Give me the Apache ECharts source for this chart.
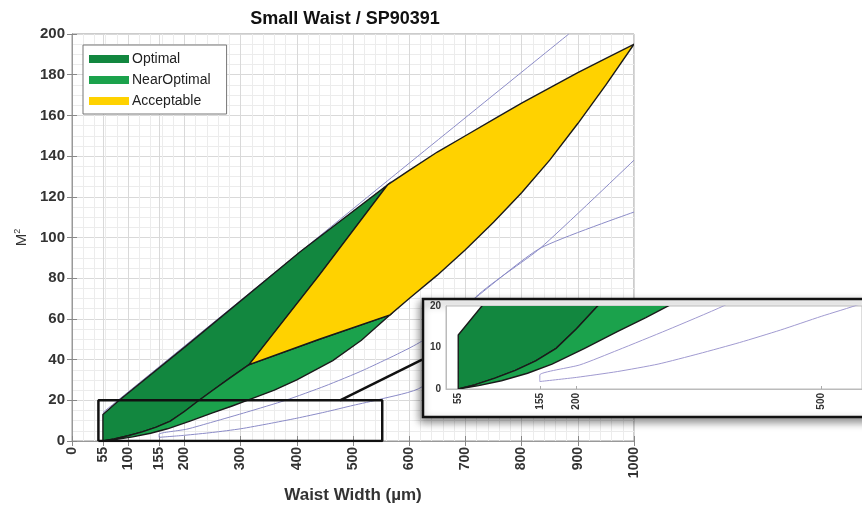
<!DOCTYPE html>
<html>
<head>
<meta charset="utf-8">
<script src="https://cdn.jsdelivr.net/npm/echarts@6/dist/echarts.min.js"></script>
<style>
  html, body { margin: 0; padding: 0; background: #fff; }
  #chart { width: 862px; height: 511px; }
</style>
</head>
<body>
<div id="chart"></div>
<script>
// tick labels
const xTicks = [0, 55, 100, 155, 200, 300, 400, 500, 600, 700, 800, 900, 1000];
const insetTicks = [55, 155, 200, 500];

// region boundaries [waist, M2]
const optimalTop = [[55, 13], [84, 20], [200, 46], [406, 93], [562, 126]];
const yellowLeft = [[562, 126], [440, 81.5], [315, 37.5]];
const midCurve = [[55, 0], [75, 1], [100, 2.6], [125, 4.5], [150, 6.8], [175, 9.8], [200, 14.5],
  [225, 19.8], [250, 24.8], [280, 30.8], [315, 37.5]];
const yellowBottom = [[315, 37.5], [440, 50], [566, 62]];
const lowerGreen = [[55, 0], [80, 0.8], [108, 2], [140, 3.8], [170, 6], [210, 9.8], [250, 13.8],
  [285, 17.2], [320, 20.8], [360, 25], [400, 30], [464, 39.5], [515, 49.5], [566, 62]];
const yellowUpper = [[562, 126], [600, 133], [650, 142], [700, 150], [750, 158], [800, 166],
  [850, 173.5], [900, 181], [950, 188], [1000, 195]];
const yellowLower = [[566, 62], [600, 70], [650, 81.5], [700, 94], [750, 107.5], [800, 122],
  [850, 138], [900, 156], [950, 175], [1000, 195]];

// thin constraint curves
const guideTop = [[55, 14], [562, 128], [884, 200]];
const curveA = [[155, 1.8], [155, 3.4], [204, 5.8], [251, 9.4], [311, 14.2], [380, 20], [450, 27],
  [520, 35], [622, 49], [714, 69.5], [833, 94.7], [1000, 112.5]];
const curveB = [[155, 1.8], [200, 2.8], [250, 4.2], [300, 6], [350, 8.5], [400, 11.2], [450, 14.2],
  [500, 17.5], [548, 20.5], [622, 26.5], [690, 50], [714, 69.5], [833, 94.7], [1000, 138]];

// zoom box and callout
const zoomX = [47, 552];
const zoomY = [0, 20];
const connector = [[477, 20], [623, 40]];

const rev = a => a.slice().reverse();
const optimalPoly = optimalTop.concat(yellowLeft.slice(1), rev(midCurve).slice(1));
const nearPoly = midCurve.concat(yellowBottom.slice(1), rev(lowerGreen).slice(1));
const acceptPoly = yellowUpper.concat(rev(yellowLower).slice(1), rev(yellowBottom).slice(1), rev(yellowLeft).slice(1));
const zoomBox = [[zoomX[0], zoomY[0]], [zoomX[0], zoomY[1]], [zoomX[1], zoomY[1]], [zoomX[1], zoomY[0]], [zoomX[0], zoomY[0]]];

const C_OPT = '#12873f';
const C_NEAR = '#1ba24c';
const C_ACC = '#ffd200';
const C_THIN = '#8b8bc7';
const FONT = '"Liberation Sans", Arial, sans-serif';

function poly(name, pts, color, ax, z) {
  return {
    type: 'custom',
    name: name,
    xAxisIndex: ax,
    yAxisIndex: ax,
    z: z,
    clip: true,
    silent: true,
    itemStyle: { color: color },
    data: [0],
    renderItem: function (params, api) {
      return {
        type: 'polygon',
        shape: { points: pts.map(p => api.coord(p)) },
        style: { fill: color, stroke: '#1a1a1a', lineWidth: 1.4 }
      };
    }
  };
}

function thin(data, ax, z, color) {
  return {
    type: 'line', xAxisIndex: ax, yAxisIndex: ax, z: z, data: data,
    showSymbol: false, silent: true, smooth: 0.2,
    lineStyle: { color: color, width: 1 }
  };
}

let chart = echarts.init(document.getElementById('chart'));

let option = {
  animation: false,
  textStyle: { fontFamily: FONT },
  title: {
    text: 'Small Waist / SP90391',
    left: 340,
    textAlign: 'center',
    top: 5,
    textStyle: { fontSize: 18, fontWeight: 'bold', color: '#111', fontFamily: FONT }
  },
  legend: {
    data: ['Optimal', 'NearOptimal', 'Acceptable'],
    orient: 'vertical',
    left: 83,
    top: 45,
    icon: 'rect',
    itemWidth: 40,
    itemHeight: 8,
    itemGap: 7,
    padding: [7, 16, 6, 6],
    backgroundColor: '#fff',
    borderColor: '#777',
    borderWidth: 1,
    borderRadius: 0,
    textStyle: { fontSize: 14, color: '#222', fontFamily: FONT, padding: [0, 0, 0, -2] }
  },
  grid: [{
    left: 72, right: 228, top: 34, bottom: 70,
    show: true, borderColor: '#999', borderWidth: 1, backgroundColor: 'transparent'
  }, {
    left: 446, top: 306, width: 420, height: 83,
    show: true, backgroundColor: '#fff', borderColor: '#bbb', borderWidth: 1, z: 10
  }],
  xAxis: [{
    gridIndex: 0, type: 'value', min: 0, max: 1000, interval: 100,
    axisLine: { lineStyle: { color: '#999' } },
    axisTick: { inside: true, length: 5, customValues: xTicks, lineStyle: { color: '#888' } },
    axisLabel: {
      customValues: xTicks, rotate: 90, margin: 6, formatter: v => String(v),
      fontSize: 14, fontWeight: 'bold', color: '#333', fontFamily: FONT
    },
    splitLine: { lineStyle: { color: '#d9d9d9' } },
    minorTick: { show: false, splitNumber: 5 },
    minorSplitLine: { show: true, lineStyle: { color: '#ececec' } },
    name: 'Waist Width (\u00b5m)',
    nameLocation: 'middle',
    nameGap: 46,
    nameTextStyle: { fontSize: 17, fontWeight: 'bold', color: '#333', fontFamily: FONT }
  }, {
    gridIndex: 0, type: 'value', min: 0, max: 1000, position: 'top',
    axisLine: { lineStyle: { color: '#999' } },
    axisTick: { inside: true, length: 5, customValues: xTicks, lineStyle: { color: '#888' } },
    axisLabel: { show: false },
    splitLine: { show: false }
  }, {
    gridIndex: 1, type: 'value', min: 40, max: 550, z: 11,
    axisLine: { lineStyle: { color: '#bbb' } },
    axisTick: { inside: true, length: 3, customValues: insetTicks, lineStyle: { color: '#aaa' } },
    axisLabel: {
      customValues: insetTicks, rotate: 90, margin: 4,
      fontSize: 10, fontWeight: 'bold', color: '#333', fontFamily: FONT
    },
    splitLine: { show: false }
  }],
  yAxis: [{
    gridIndex: 0, type: 'value', min: 0, max: 200, interval: 20,
    axisLine: { show: true, lineStyle: { color: '#999' } },
    axisTick: { show: true, inside: true, length: 5, lineStyle: { color: '#888' } },
    axisLabel: { margin: 7, fontSize: 15, fontWeight: 'bold', color: '#333', fontFamily: FONT },
    splitLine: { lineStyle: { color: '#d9d9d9' } },
    minorTick: { show: false, splitNumber: 4 },
    minorSplitLine: { show: true, lineStyle: { color: '#ececec' } },
    name: 'M{s|2}',
    nameLocation: 'middle',
    nameGap: 30,
    nameRotate: 90,
    nameTextStyle: {
      fontSize: 15, color: '#333', fontFamily: FONT,
      rich: { s: { fontSize: 9, verticalAlign: 'top', padding: [0, 0, 8, 0], color: '#333' } }
    }
  }, {
    gridIndex: 0, type: 'value', min: 0, max: 200, interval: 20, position: 'right',
    axisLine: { show: true, lineStyle: { color: '#999' } },
    axisTick: { show: true, inside: true, length: 5, lineStyle: { color: '#888' } },
    axisLabel: { show: false },
    splitLine: { show: false }
  }, {
    gridIndex: 1, type: 'value', min: 0, max: 20, interval: 10, z: 11,
    axisLine: { show: true, lineStyle: { color: '#bbb' } },
    axisTick: { show: false },
    axisLabel: { margin: 5, fontSize: 10, fontWeight: 'bold', color: '#333', fontFamily: FONT },
    splitLine: { show: false }
  }],
  graphic: [{
    type: 'rect',
    z: 6,
    silent: true,
    shape: { x: 423, y: 299, width: 460, height: 118 },
    style: {
      fill: '#fff', stroke: '#111', lineWidth: 2.5,
      shadowBlur: 8, shadowColor: 'rgba(0,0,0,0.45)', shadowOffsetX: -2, shadowOffsetY: 4
    }
  }],
  series: [
    thin(guideTop, 0, 2, C_THIN),
    thin(curveA, 0, 2, C_THIN),
    thin(curveB, 0, 2, C_THIN),
    poly('Optimal', optimalPoly, C_OPT, 0, 3),
    poly('NearOptimal', nearPoly, C_NEAR, 0, 3),
    poly('Acceptable', acceptPoly, C_ACC, 0, 3),
    {
      type: 'line', xAxisIndex: 0, yAxisIndex: 0, z: 4, data: zoomBox,
      showSymbol: false, silent: true, lineStyle: { color: '#111', width: 2.5 }
    },
    {
      type: 'line', xAxisIndex: 0, yAxisIndex: 0, z: 4, data: connector,
      showSymbol: false, silent: true, lineStyle: { color: '#111', width: 2.5 }
    },
    // inset
    thin(curveA, 2, 12, '#a09ad0'),
    thin(curveB, 2, 12, '#a09ad0'),
    poly(null, optimalPoly, C_OPT, 2, 13),
    poly(null, nearPoly, C_NEAR, 2, 13)
  ]
};

chart.setOption(option);
</script>
</body>
</html>
